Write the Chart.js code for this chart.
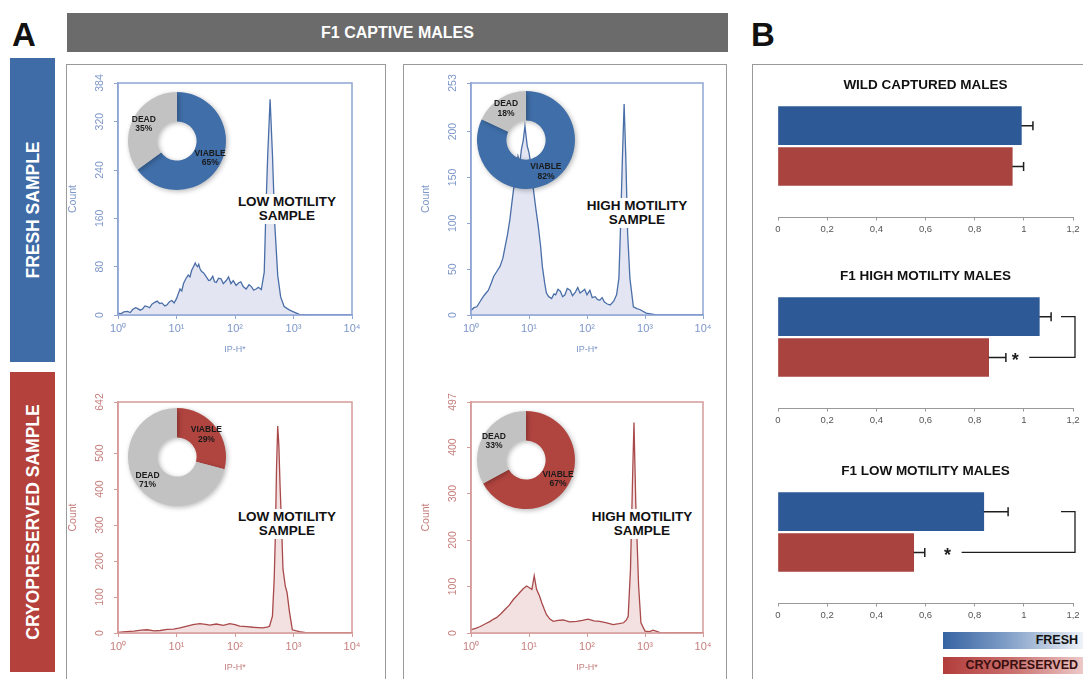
<!DOCTYPE html>
<html>
<head>
<meta charset="utf-8">
<script src="https://cdn.jsdelivr.net/npm/chart.js@4.4.0/dist/chart.umd.min.js"></script>
<style>
  body { margin: 0; width: 1083px; height: 679px; overflow: hidden; background: #fff; position: relative;
         font-family: "Liberation Sans", Arial, sans-serif; }
  .abs { position: absolute; }
  canvas { position: absolute; }
  .letter { font-weight: bold; font-size: 33px; line-height: 33px; color: #111; }
  .header { left: 67px; top: 13px; width: 661px; height: 39px; background: #6b6b6b; color: #fff;
            font-weight: bold; font-size: 16px; line-height: 39px; text-align: center; }
  .side { left: 10px; width: 45px; color: #fff; font-weight: bold; font-size: 17.5px; }
  .side span { position: absolute; left: 50%; top: 50%; white-space: nowrap;
               transform: translate(-50%, -50%) rotate(-90deg); }
  .box { border: 1px solid #9a9a9a; }
  .tag { font-weight: bold; font-size: 13.5px; line-height: 14px; color: #111; background: #fff;
         text-align: center; width: 112px; padding: 1px 0; }
  .key { left: 943px; width: 140px; height: 17px; font-weight: bold; font-size: 12.5px; line-height: 17px;
         text-align: right; box-sizing: border-box; padding-right: 5px; }
</style>
</head>
<body>
<div class="abs letter" style="left:12px; top:18px;">A</div>
<div class="abs letter" style="left:751px; top:18px;">B</div>
<div class="abs header">F1 CAPTIVE MALES</div>
<div class="abs side" style="top:58px; height:304px; background:#3f6ca6;"><span>FRESH SAMPLE</span></div>
<div class="abs side" style="top:372px; height:300px; background:#b4413c;"><span>CRYOPRESERVED SAMPLE</span></div>
<div class="abs box" style="left:66px; top:64px; width:318px; height:640px;"></div>
<div class="abs box" style="left:403px; top:64px; width:322px; height:640px;"></div>
<div class="abs box" style="left:752px; top:64px; width:360px; height:640px;"></div>

<canvas id="h1" width="310" height="292" style="left:66px; top:65px;"></canvas>
<canvas id="h2" width="310" height="292" style="left:419px; top:65px;"></canvas>
<canvas id="h3" width="310" height="291" style="left:66px; top:384px;"></canvas>
<canvas id="h4" width="310" height="291" style="left:419px; top:384px;"></canvas>

<canvas id="d1" width="110" height="110" style="left:122px; top:86px;"></canvas>
<canvas id="d2" width="110" height="110" style="left:471px; top:85px;"></canvas>
<canvas id="d3" width="110" height="110" style="left:122px; top:402px;"></canvas>
<canvas id="d4" width="110" height="110" style="left:471px; top:405px;"></canvas>

<div class="abs tag" style="left:231px; top:194px;">LOW MOTILITY<br>SAMPLE</div>
<div class="abs tag" style="left:581px; top:198px;">HIGH MOTILITY<br>SAMPLE</div>
<div class="abs tag" style="left:231px; top:509px;">LOW MOTILITY<br>SAMPLE</div>
<div class="abs tag" style="left:586px; top:509px;">HIGH MOTILITY<br>SAMPLE</div>

<canvas id="b1" width="323" height="175" style="left:760px; top:70px;"></canvas>
<canvas id="b2" width="323" height="175" style="left:760px; top:261px;"></canvas>
<canvas id="b3" width="323" height="175" style="left:760px; top:456px;"></canvas>

<div class="abs key" style="top:632px; background:linear-gradient(to right, #3563a2, #7f9dc6 45%, #eef2f8); color:#111;">FRESH</div>
<div class="abs key" style="top:657px; background:linear-gradient(to right, #b23d3b, #c9706e 50%, #ecc9c8); color:#3a0f0f;">CRYOPRESERVED</div>

<script>
// histogram x positions are in decades of IP-H* (10^0 .. 10^4)
const decades = [0, 1, 2, 3, 4];
const supDigits = ["⁰", "¹", "²", "³", "⁴"];

const freshLowX = [0, 0.05, 0.1, 0.16, 0.21, 0.25, 0.3, 0.33, 0.38, 0.42, 0.46, 0.5, 0.54, 0.58, 0.63, 0.67, 0.71, 0.75, 0.8, 0.84,
  0.88, 0.92, 0.96, 1.0, 1.03, 1.06, 1.09, 1.12, 1.16, 1.2, 1.23, 1.26, 1.29, 1.32, 1.34, 1.36, 1.38, 1.4, 1.43, 1.46,
  1.49, 1.51, 1.55, 1.58, 1.62, 1.65, 1.68, 1.72, 1.76, 1.8, 1.85, 1.89, 1.93, 1.97, 2.02, 2.06, 2.1, 2.14, 2.19, 2.24,
  2.28, 2.32, 2.36, 2.4, 2.45, 2.5, 2.53, 2.56, 2.6, 2.64, 2.68, 2.73, 2.78, 2.84, 2.92, 2.98, 3.1, 3.3, 4];
const freshLowCount = [3, 2, 5, 6, 4, 9, 12, 11, 8, 10, 15, 14, 12, 18, 21, 23, 19, 20, 15, 17,
  22, 24, 20, 27, 35, 43, 40, 52, 60, 66, 63, 74, 80, 86, 82, 80, 84, 77, 72, 70,
  66, 63, 57, 58, 64, 55, 54, 61, 60, 52, 57, 63, 52, 57, 49, 53, 55, 47, 43, 50,
  47, 41, 43, 46, 42, 71, 180, 266, 357, 266, 150, 66, 30, 14, 9, 6, 1, 0, 0];

const freshHighX = [0, 0.05, 0.1, 0.16, 0.21, 0.26, 0.3, 0.35, 0.39, 0.45, 0.5, 0.55, 0.59, 0.63, 0.67, 0.71, 0.74, 0.78, 0.81, 0.84,
  0.87, 0.9, 0.93, 0.97, 1.0, 1.04, 1.07, 1.12, 1.16, 1.2, 1.23, 1.27,
  1.3, 1.34, 1.39, 1.43, 1.46, 1.5, 1.54, 1.58, 1.62, 1.66, 1.71, 1.75, 1.8, 1.84, 1.88, 1.92, 1.96, 2.0, 2.05, 2.09,
  2.14, 2.18, 2.22, 2.26, 2.3, 2.35, 2.4, 2.46,
  2.51, 2.55, 2.58, 2.61, 2.64, 2.67, 2.7, 2.74, 2.8, 2.86, 2.91, 3.02, 3.2, 4];
const freshHighCount = [5, 8, 9, 15, 20, 24, 27, 35, 42, 48, 53, 62, 75, 88, 104, 125, 140, 160, 173, 165,
  181, 190, 206, 184, 177, 160, 140, 115, 97, 75, 53, 35,
  24, 20, 18, 23, 22, 28, 26, 20, 22, 29, 27, 21, 25, 30, 24, 26, 28, 22, 27, 19,
  20, 17, 16, 19, 14, 12, 11, 15,
  22, 40, 100, 170, 230, 170, 90, 40, 9, 7, 6, 2, 0, 0];

const cryoLowX = [0, 0.14, 0.27, 0.4, 0.5, 0.62, 0.72, 0.84, 0.95, 1.06, 1.18, 1.28, 1.4, 1.5, 1.57, 1.68, 1.8, 1.91, 2.0, 2.08,
  2.2, 2.31, 2.4, 2.47, 2.55, 2.59, 2.64, 2.67, 2.69, 2.71, 2.73, 2.75, 2.77, 2.8, 2.82, 2.86, 2.89, 2.93, 2.98, 3.1, 3.21, 4];
const cryoLowCount = [2, 4, 5, 8, 9, 6, 7, 10, 11, 14, 19, 23, 26, 24, 22, 25, 21, 26, 23, 19,
  18, 16, 15, 14, 16, 19, 47, 150, 271, 460, 575, 520, 411, 280, 178, 130, 112, 60, 9, 4, 1, 0];

const cryoHighX = [0, 0.08, 0.16, 0.25, 0.33, 0.39, 0.44, 0.52, 0.59, 0.66, 0.73, 0.79, 0.84, 0.9, 0.96, 1.0, 1.05, 1.09, 1.13, 1.18,
  1.22, 1.26, 1.3, 1.36, 1.42, 1.5, 1.59, 1.7, 1.82, 1.92, 2.02, 2.12, 2.22, 2.34, 2.45, 2.55, 2.63, 2.68, 2.71, 2.75,
  2.79, 2.81, 2.84, 2.89, 2.93, 3.0, 3.08, 3.14, 3.26, 4];
const cryoHighCount = [7, 10, 14, 20, 25, 30, 33, 42, 51, 60, 72, 80, 87, 95, 101, 98, 94, 123, 94, 80,
  65, 52, 40, 30, 25, 27, 28, 24, 25, 27, 30, 26, 25, 22, 18, 20, 22, 28, 36, 138,
  355, 453, 283, 101, 22, 4, 3, 6, 1, 0];

const freshLowTicks = [0, 80, 160, 240, 320, 384];
const freshHighTicks = [0, 50, 100, 150, 200, 253];
const cryoLowTicks = [0, 100, 200, 300, 400, 500, 642];
const cryoHighTicks = [0, 100, 200, 300, 400, 497];

// viability donuts, percent
const donutLabels = ["VIABLE", "DEAD"];
const freshLowViab = [65, 35];
const freshHighViab = [82, 18];
const cryoLowViab = [29, 71];
const cryoHighViab = [67, 33];

// panel B: relative values (fresh vs cryopreserved) with error
const groupNames = ["WILD CAPTURED MALES", "F1 HIGH MOTILITY MALES", "F1 LOW MOTILITY MALES"];
const freshMean = [0.99, 1.063, 0.837];
const freshErr = [0.047, 0.048, 0.099];
const cryoMean = [0.953, 0.857, 0.552];
const cryoErr = [0.046, 0.07, 0.045];
const significant = [false, true, true];
const panelBTicks = [0, 0.2, 0.4, 0.6, 0.8, 1, 1.2];

const FONT = '"Liberation Sans", Arial, sans-serif';
const fresh = { line: "#4a6ea8", fill: "#e3e6f2", axis: "#8fa5d3", text: "#7d96c8", donut: "#3f6ea8" };
const cryo = { line: "#a9494a", fill: "#f3e1e1", axis: "#d59b99", text: "#c57f7d", donut: "#b0443f" };
const barBlue = "#2d5a96";
const barRed = "#a8433f";

const framePlugin = {
  id: "frame",
  afterDatasetsDraw(chart, args, opts) {
    const { ctx, chartArea: a } = chart;
    ctx.save();
    ctx.strokeStyle = opts.color;
    ctx.lineWidth = 1.5;
    ctx.strokeRect(a.left, a.top, a.right - a.left, a.bottom - a.top);
    ctx.restore();
  }
};

function histogram(id, xs, counts, yTicks, theme, padRight) {
  new Chart(document.getElementById(id), {
    type: "line",
    data: {
      datasets: [{
        data: xs.map((x, i) => ({ x, y: counts[i] })),
        borderColor: theme.line,
        backgroundColor: theme.fill,
        borderWidth: 1.3,
        fill: "origin",
        pointRadius: 0,
        tension: 0
      }]
    },
    options: {
      responsive: false,
      animation: false,
      devicePixelRatio: 1,
      layout: { padding: { top: 18, right: padRight } },
      plugins: { legend: { display: false }, tooltip: { enabled: false }, frame: { color: theme.axis } },
      scales: {
        x: {
          type: "linear", min: 0, max: 4,
          afterBuildTicks: (s) => { s.ticks = decades.map((v) => ({ value: v })); },
          afterFit: (s) => { s.height = 42; },
          ticks: { callback: (v) => "10" + supDigits[v], color: theme.text, font: { family: FONT, size: 11 }, padding: 3, maxRotation: 0 },
          grid: { drawOnChartArea: false, tickLength: 4, color: theme.axis },
          border: { color: theme.axis, width: 1.5 },
          title: { display: true, text: "IP-H*", color: theme.text, font: { family: FONT, size: 9 }, padding: { top: 0, bottom: 2 } }
        },
        y: {
          min: 0, max: yTicks[yTicks.length - 1],
          afterBuildTicks: (s) => { s.ticks = yTicks.map((v) => ({ value: v })); },
          afterFit: (s) => { s.width = 52; },
          ticks: { autoSkip: false, minRotation: 90, maxRotation: 90, crossAlign: "center", padding: 5,
                   color: theme.text, font: { family: FONT, size: 10.5 } },
          grid: { drawOnChartArea: false, tickLength: 4, color: theme.axis },
          border: { color: theme.axis, width: 1.5 },
          title: { display: true, text: "Count", color: theme.text, font: { family: FONT, size: 10.5 }, padding: { top: 1, bottom: 0 } }
        }
      }
    },
    plugins: [framePlugin]
  });
}

const donutDecor = {
  id: "donutDecor",
  beforeDatasetsDraw(chart) {
    const ctx = chart.ctx;
    ctx.save();
    ctx.shadowColor = "rgba(0,0,0,0.28)";
    ctx.shadowBlur = 5;
    ctx.shadowOffsetX = 1.5;
    ctx.shadowOffsetY = 1.5;
  },
  afterDatasetsDraw(chart) {
    const ctx = chart.ctx;
    ctx.restore();
    ctx.save();
    ctx.fillStyle = "#1b1b1b";
    ctx.font = "bold 8.5px " + FONT;
    ctx.textAlign = "center";
    ctx.textBaseline = "middle";
    chart.getDatasetMeta(0).data.forEach((arc, i) => {
      const p = arc.getProps(["x", "y", "startAngle", "endAngle", "outerRadius"], true);
      const mid = (p.startAngle + p.endAngle) / 2;
      const r = p.outerRadius * 0.76;
      const px = p.x + Math.cos(mid) * r;
      const py = p.y + Math.sin(mid) * r;
      ctx.fillText(chart.data.labels[i], px, py - 4.5);
      ctx.fillText(chart.data.datasets[0].data[i] + "%", px, py + 5);
    });
    ctx.restore();
  }
};

function donut(id, values, theme) {
  new Chart(document.getElementById(id), {
    type: "doughnut",
    data: {
      labels: donutLabels,
      datasets: [{ data: values, backgroundColor: [theme.donut, "#c2c2c2"], borderWidth: 0 }]
    },
    options: {
      responsive: false,
      animation: false,
      devicePixelRatio: 1,
      radius: 49,
      cutout: 22,
      plugins: { legend: { display: false }, tooltip: { enabled: false } }
    },
    plugins: [donutDecor]
  });
}

const whiskers = {
  id: "whiskers",
  afterDatasetsDraw(chart, args, opts) {
    const { ctx, chartArea: a } = chart;
    const xs = chart.scales.x;
    const bars = chart.getDatasetMeta(0).data;
    ctx.save();
    ctx.strokeStyle = "#1e1e1e";
    ctx.lineWidth = 1.5;
    opts.means.forEach((m, i) => {
      const y = bars[i].y;
      const x0 = xs.getPixelForValue(m);
      const x1 = xs.getPixelForValue(m + opts.errs[i]);
      ctx.beginPath();
      ctx.moveTo(x0, y); ctx.lineTo(x1, y);
      ctx.moveTo(x1, y - 4.5); ctx.lineTo(x1, y + 4.5);
      ctx.stroke();
    });
    if (opts.sig) {
      const yTop = bars[0].y;
      const yBot = bars[1].y;
      const xr = a.right + 2;
      const starX = xs.getPixelForValue(opts.starAt);
      ctx.lineWidth = 1.3;
      ctx.beginPath();
      ctx.moveTo(xr - 14, yTop); ctx.lineTo(xr, yTop); ctx.lineTo(xr, yBot); ctx.lineTo(starX + 14, yBot);
      ctx.stroke();
      ctx.fillStyle = "#1e1e1e";
      ctx.font = "bold 18px " + FONT;
      ctx.textAlign = "center";
      ctx.textBaseline = "middle";
      ctx.fillText("*", starX, yBot + 4);
    }
    ctx.restore();
  }
};

function barPanel(id, k, starAt) {
  const means = [freshMean[k], cryoMean[k]];
  const errs = [freshErr[k], cryoErr[k]];
  new Chart(document.getElementById(id), {
    type: "bar",
    data: {
      datasets: [{
        data: means.map((v, i) => ({ x: v, y: i })),
        backgroundColor: [barBlue, barRed],
        barThickness: 38,
        borderWidth: 0
      }]
    },
    options: {
      indexAxis: "y",
      responsive: false,
      animation: false,
      devicePixelRatio: 1,
      layout: { padding: { left: 18, right: 10 } },
      plugins: {
        legend: { display: false },
        tooltip: { enabled: false },
        title: { display: true, text: groupNames[k], color: "#111", font: { family: FONT, size: 13.5, weight: "bold" },
                 padding: { top: 7, bottom: 1.8 } },
        whiskers: { means, errs, sig: significant[k], starAt }
      },
      scales: {
        x: {
          min: 0, max: 1.2,
          afterBuildTicks: (s) => { s.ticks = panelBTicks.map((v) => ({ value: v })); },
          afterFit: (s) => { s.height = 27.5; },
          ticks: { callback: (v) => String(Math.round(v * 10) / 10).replace(".", ","), color: "#555",
                   font: { family: FONT, size: 9.5 }, padding: 3, maxRotation: 0 },
          grid: { drawOnChartArea: false, tickLength: 3, color: "#999" },
          border: { color: "#999", width: 1 }
        },
        y: { type: "linear", min: -0.5, max: 2, reverse: true, display: false }
      }
    },
    plugins: [whiskers]
  });
}

histogram("h1", freshLowX, freshLowCount, freshLowTicks, fresh, 24);
histogram("h2", freshHighX, freshHighCount, freshHighTicks, fresh, 26);
histogram("h3", cryoLowX, cryoLowCount, cryoLowTicks, cryo, 24);
histogram("h4", cryoHighX, cryoHighCount, cryoHighTicks, cryo, 26);

donut("d1", freshLowViab, fresh);
donut("d2", freshHighViab, fresh);
donut("d3", cryoLowViab, cryo);
donut("d4", cryoHighViab, cryo);

barPanel("b1", 0, null);
barPanel("b2", 1, 0.965);
barPanel("b3", 2, 0.69);
</script>
</body>
</html>
